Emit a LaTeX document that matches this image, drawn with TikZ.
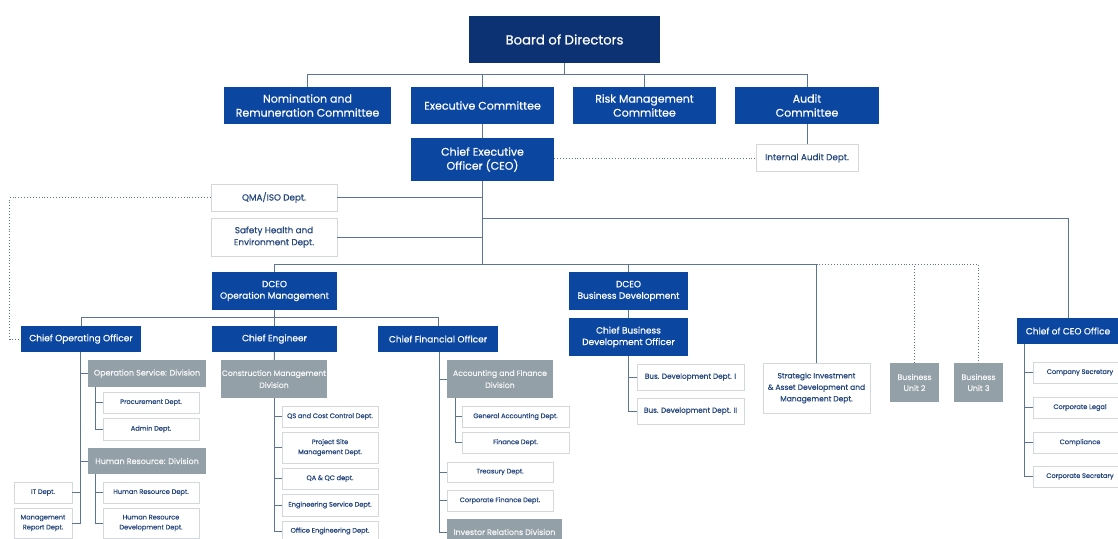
\documentclass[tikz,border=0pt]{standalone}
\usepackage{fontspec}
\setmainfont{Poppins}[FakeBold=0.6]
\usepackage{tikz}

\definecolor{navy}{HTML}{0C3273}
\definecolor{corpblue}{HTML}{0B46A0}
\definecolor{divgrey}{HTML}{94A0A7}
\definecolor{linkcol}{HTML}{5D7592}
\definecolor{deptline}{HTML}{D3D8DE}
\definecolor{depttext}{HTML}{27487F}

\newcommand{\orgXL}{\fontsize{13.2}{15}\selectfont}
\newcommand{\orgL}{\fontsize{11}{14}\selectfont}
\newcommand{\orgM}{\fontsize{9}{11.5}\selectfont}
\newcommand{\orgS}{\fontsize{8.8}{12}\selectfont}
\newcommand{\orgXS}{\fontsize{6.6}{10}\selectfont}

\tikzset{
  wh/.style 2 args={minimum width=#1pt,minimum height=#2pt},
  orgbox/.style={inner sep=1pt,align=center},
  navybox/.style={orgbox,fill=navy,text=white,font=\orgXL},
  bluebox/.style={orgbox,fill=corpblue,text=white},
  greybox/.style={orgbox,fill=divgrey,text=white!92!divgrey},
  deptbox/.style={orgbox,fill=white,draw=deptline,line width=0.8pt,text=depttext},
  link/.style={draw=linkcol,line width=1pt},
  duty/.style={draw=linkcol,line width=0.9pt,dotted}
}

\begin{document}
\begin{tikzpicture}[x=1pt,y=-1pt]
\useasboundingbox (0,0) rectangle (1118,538);
\clip (0,0) rectangle (1118,538);
\fill[white] (0,0) rectangle (1118,538);

% board and committees
\node[navybox,wh={191}{47}] (board) at (564.5,39.5) {Board of Directors};
\node[bluebox,wh={167}{37},font=\orgL] (nrc) at (307.5,105.5) {Nomination and\\Remuneration Committee};
\node[bluebox,wh={143}{37},font=\orgL] (exec) at (482.5,105.5) {Executive Committee};
\node[bluebox,wh={143}{37},font=\orgL] (risk) at (644.5,105.5) {Risk Management\\Committee};
\node[bluebox,wh={144}{37},font=\orgL] (audit) at (807,105.5) {Audit\\Committee};
\node[bluebox,wh={143}{43},font=\orgL] (ceo) at (482.5,159.5) {Chief Executive\\Officer (CEO)};
\node[deptbox,wh={102}{27},font=\orgS] (iad) at (807,158) {Internal Audit Dept.};
\node[deptbox,wh={126}{27},font=\orgS] (qma) at (274,197.5) {QMA/ISO Dept.};
\node[deptbox,wh={126}{38},font=\orgS] (she) at (274,237) {Safety Health and\\Environment Dept.};

% deputy CEOs and chiefs
\node[bluebox,wh={125}{38},font=\orgM] (dceoop) at (274.5,291) {DCEO\\Operation Management};
\node[bluebox,wh={119}{38},font=\orgM] (dceobd) at (628.5,291) {DCEO\\Business Development};
\node[bluebox,wh={120}{26},font=\orgM] (coo) at (81,339) {Chief Operating Officer};
\node[bluebox,wh={125}{26},font=\orgM] (ce) at (274.5,339) {Chief Engineer};
\node[bluebox,wh={120}{26},font=\orgM] (cfo) at (438,339) {Chief Financial Officer};
\node[bluebox,wh={119}{38},font=\orgM] (cbdo) at (628.5,337) {Chief Business\\Development Officer};
\node[bluebox,wh={102}{26},font=\orgM] (ceooff) at (1068,331) {Chief of CEO Office};

% business development side
\node[deptbox,wh={107}{26},font=\fontsize{7.3}{10}\selectfont] (bda) at (690.5,377) {Bus. Development Dept. I};
\node[deptbox,wh={107}{26},font=\fontsize{7.3}{10}\selectfont] (bdb) at (690.5,411) {Bus. Development Dept. II};
\node[deptbox,wh={107}{50},font=\fontsize{7.5}{11.5}\selectfont] (sia) at (816.5,388) {Strategic Investment\\\& Asset Development and\\Management Dept.};
\node[greybox,wh={49}{39},font=\fontsize{7.9}{11}\selectfont] (bua) at (914.5,382.5) {Business\\Unit 2};
\node[greybox,wh={49}{39},font=\fontsize{7.9}{11}\selectfont] (bub) at (978.5,382.5) {Business\\Unit 3};

% CEO office
\node[deptbox,wh={94}{21},font=\orgXS] (cosec) at (1080,372.5) {Company Secretary};
\node[deptbox,wh={94}{21},font=\orgXS] (legal) at (1080,407.5) {Corporate Legal};
\node[deptbox,wh={94}{21},font=\orgXS] (compl) at (1080,442.5) {Compliance};
\node[deptbox,wh={94}{21},font=\orgXS] (corpsec) at (1080,476.5) {Corporate Secretary};

% operations
\node[greybox,wh={118}{27},font=\fontsize{8}{10}\selectfont] (osd) at (147,373.5) {Operation Service: Division};
\node[deptbox,wh={96}{21},font=\orgXS] (proc) at (151,402.5) {Procurement Dept.};
\node[deptbox,wh={96}{22},font=\orgXS] (admin) at (151,429) {Admin Dept.};
\node[greybox,wh={118}{26},font=\fontsize{8}{10}\selectfont] (hrdiv) at (147,461) {Human Resource: Division};
\node[deptbox,wh={96}{21},font=\orgXS] (hrdept) at (151,492.5) {Human Resource Dept.};
\node[deptbox,wh={96}{30},font=\orgXS] (hrdev) at (151,523) {Human Resource\\Development Dept.};
\node[deptbox,wh={58}{21},font=\orgXS] (itd) at (43,492.5) {IT Dept.};
\node[deptbox,wh={58}{30},font=\orgXS] (mrd) at (43,523) {Management\\Report Dept.};

% engineering
\node[greybox,wh={106}{38},font=\fontsize{7.7}{12}\selectfont] (cmd) at (274,379) {Construction Management\\Division};
\node[deptbox,wh={96}{21},font=\orgXS] (qscc) at (330,416.5) {QS and Cost Control Dept.};
\node[deptbox,wh={96}{31},font=\orgXS] (psm) at (330,447.5) {Project Site\\Management Dept.};
\node[deptbox,wh={96}{21},font=\orgXS] (qaqc) at (330,478.5) {QA \& QC dept.};
\node[deptbox,wh={96}{22},font=\orgXS] (esd) at (330,505) {Engineering Service Dept.};
\node[deptbox,wh={96}{20},font=\orgXS] (oed) at (330,531) {Office Engineering Dept.};

% finance
\node[greybox,wh={106}{38},font=\fontsize{7.7}{12}\selectfont] (afd) at (500,379) {Accounting and Finance\\Division};
\node[deptbox,wh={107}{21},font=\orgXS] (gad) at (515.5,416.5) {General Accounting Dept.};
\node[deptbox,wh={107}{21},font=\orgXS] (find) at (515.5,442.5) {Finance Dept.};
\node[deptbox,wh={106}{20},font=\orgXS] (tred) at (500,472) {Treasury Dept.};
\node[deptbox,wh={106}{21},font=\orgXS] (cfd) at (500,500.5) {Corporate Finance Dept.};
\node[greybox,wh={115}{26},font=\fontsize{7.9}{10}\selectfont] (ird) at (504.5,532) {Investor Relations Division};

% connectors at the top
\draw[link] (board.south) -- ++(0,11) coordinate (bj);
\draw[link] (nrc.north) |- (bj) -| (audit.north);
\draw[link] (exec.north) |- (bj);
\draw[link] (risk.north) |- (bj);
\draw[link] (exec) -- (ceo);
\draw[link] (audit) -- (iad);
\draw[duty] (iad.west -| ceo.east) -- (iad.west);
\draw[link] (ceo.south) -- ++(0,83) coordinate (trunk);
\draw[link] (qma.east) -- (qma.east -| ceo.south);
\draw[link] (she.east) -- (she.east -| ceo.south);
\draw[link] ([yshift=-37pt]ceo.south) -| (ceooff.north);
\draw[duty] (qma.west) -- ++(-201,0) |- (coo.west);

% connectors of the second tier
\draw[link] (dceoop.north) |- (trunk) -| (sia.north);
\draw[link] (dceobd.north) |- (trunk);
\coordinate (sj) at (sia.north |- trunk);
\draw[duty] (sj) -| (bub.north);
\draw[duty] (bua.north) -- (bua.north |- sj);
\draw[link] (dceoop) -- (ce);
\draw[link] (coo.north) -- ++(0,-8) -| (cfo.north);
\draw[link] (dceobd) -- (cbdo);
\draw[link] (cbdo.south) |- (bda.west);
\draw[link] (cbdo.south) |- (bdb.west);
\foreach \d in {cosec,legal,compl,corpsec}
  \draw[link] ([xshift=8pt]ceooff.south west) |- (\d.west);

% operations tree
\foreach \d in {osd,hrdiv}
  \draw[link] ([xshift=-1pt]coo.south) |- (\d.west);
\foreach \d in {itd,mrd}
  \draw[link] ([xshift=-1pt]coo.south) |- (\d.east);
\foreach \d in {proc,admin}
  \draw[link] ([xshift=8pt]osd.south west) |- (\d.west);
\foreach \d in {hrdept,hrdev}
  \draw[link] ([xshift=8pt]hrdiv.south west) |- (\d.west);

% engineering tree
\draw[link] (ce) -- (cmd);
\foreach \d in {qscc,psm,qaqc,esd,oed}
  \draw[link] (cmd.south) |- (\d.west);

% finance tree
\foreach \d in {afd,tred,cfd,ird}
  \draw[link] ([xshift=1pt]cfo.south) |- (\d.west);
\foreach \d in {gad,find}
  \draw[link] ([xshift=9pt]afd.south west) |- (\d.west);
\end{tikzpicture}
\end{document}
